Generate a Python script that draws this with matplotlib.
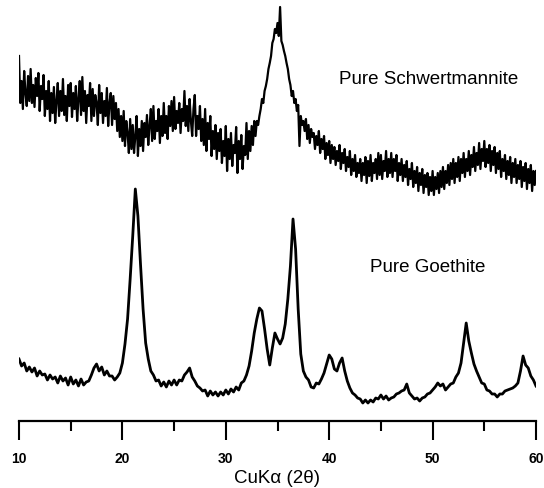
import matplotlib.pyplot as plt
import numpy as np

# 2-theta grids: the schwertmannite scan read at 0.125 deg, goethite at 0.25 deg
theta_fine = np.arange(10, 60.001, 0.125)
theta = np.arange(10, 60.001, 0.25)

# intensity (a.u.)
schwertmannite = [
    365, 318, 340, 312, 350, 328, 315, 345,
    320, 352, 318, 336, 314, 343, 325, 348,
    310, 335, 322, 346, 305, 330, 312, 340,
    300, 328, 308, 334, 298, 320, 338, 305,
    330, 310, 342, 306, 325, 300, 336, 315,
    338, 304, 328, 312, 335, 300, 322, 340,
    306, 344, 310, 330, 298, 326, 315, 338,
    300, 332, 305, 326, 318, 296, 336, 308,
    328, 298, 320, 305, 333, 295, 318, 328,
    296, 325, 302, 318, 290, 312, 284, 305,
    280, 310, 275, 300, 288, 268, 302, 272,
    296, 268, 285, 305, 265, 292, 275, 300,
    270, 298, 284, 306, 276, 295, 312, 280,
    315, 282, 300, 290, 312, 278, 305, 285,
    318, 288, 305, 282, 315, 295, 320, 290,
    324, 292, 310, 298, 318, 288, 312, 300,
    330, 295, 315, 290, 322, 300, 285, 312,
    326, 285, 305, 292, 315, 280, 302, 276,
    312, 270, 298, 282, 305, 265, 290, 272,
    296, 262, 288, 270, 292, 258, 280, 265,
    295, 250, 282, 262, 288, 255, 276, 268,
    294, 248, 280, 262, 286, 252, 275, 266,
    298, 262, 290, 270, 295, 276, 300, 285,
    300, 296, 305, 312, 322, 318, 330, 335,
    342, 352, 358, 365, 378, 382, 392, 388,
    398, 385, 414, 380, 376, 370, 365, 358,
    352, 342, 336, 325, 330, 318, 322, 310,
    316, 275, 305, 296, 300, 290, 302, 282,
    296, 278, 292, 284, 288, 272, 285, 276,
    290, 268, 282, 272, 285, 262, 278, 266,
    280, 258, 276, 262, 274, 256, 270, 260,
    276, 252, 268, 258, 272, 250, 264, 254,
    270, 246, 262, 250, 266, 244, 258, 248,
    262, 240, 258, 246, 264, 238, 260, 245,
    266, 240, 258, 248, 262, 242, 268, 246,
    266, 242, 260, 250, 270, 244, 262, 248,
    268, 244, 262, 250, 266, 240, 258, 246,
    262, 240, 256, 244, 260, 236, 252, 242,
    258, 234, 250, 238, 254, 230, 248, 236,
    252, 228, 246, 234, 248, 226, 244, 230,
    250, 226, 244, 232, 248, 228, 250, 234,
    254, 232, 250, 238, 256, 236, 258, 242,
    262, 238, 258, 244, 264, 240, 262, 248,
    268, 244, 262, 250, 270, 246, 266, 254,
    274, 250, 268, 256, 278, 252, 272, 260,
    280, 254, 272, 258, 276, 250, 270, 256,
    274, 248, 268, 252, 270, 244, 262, 250,
    266, 242, 260, 246, 264, 238, 258, 244,
    262, 238, 256, 242, 260, 234, 254, 240,
    258, 232, 252, 238, 256, 230, 250, 236,
    250,
]

goethite = [
    62, 55, 58, 50, 54, 49, 53, 45, 50, 46, 47, 41,
    46, 42, 44, 38, 45, 40, 43, 36, 44, 37, 41, 35,
    42, 36, 39, 40, 46, 53, 57, 50, 54, 46, 50, 45,
    45, 41, 44, 48, 58, 77, 102, 142, 185, 232, 205, 157,
    112, 78, 62, 50, 46, 40, 41, 35, 39, 34, 40, 36,
    41, 36, 41, 40, 46, 49, 53, 44, 40, 35, 33, 30,
    31, 25, 30, 26, 29, 25, 29, 26, 31, 27, 32, 29,
    34, 31, 38, 40, 46, 55, 70, 88, 102, 113, 110, 92,
    72, 56, 73, 88, 82, 77, 83, 97, 122, 155, 202, 172,
    112, 67, 50, 44, 41, 34, 33, 38, 37, 42, 48, 57,
    66, 62, 52, 50, 58, 63, 50, 40, 33, 28, 26, 23,
    22, 18, 21, 18, 21, 19, 23, 22, 26, 22, 25, 21,
    23, 24, 27, 28, 30, 31, 37, 28, 25, 22, 23, 20,
    23, 24, 27, 28, 31, 34, 38, 35, 37, 31, 34, 37,
    38, 44, 48, 58, 78, 98, 80, 68, 57, 50, 44, 38,
    37, 31, 30, 27, 27, 24, 27, 27, 30, 31, 32, 33,
    35, 38, 50, 65, 56, 53, 45, 41, 35,
]

major_ticks = [10, 20, 30, 40, 50, 60]
minor_ticks = [15, 25, 35, 45, 55]

plt.rcParams['font.family'] = ['Liberation Sans', 'DejaVu Sans']

fig = plt.figure(figsize=(5.44, 4.89), dpi=100)
ax = fig.add_axes([19 / 544, 1 - 422 / 489, 517 / 544, 422 / 489])

ax.plot(theta_fine, schwertmannite, color='black', lw=1.6)
ax.plot(theta, goethite, color='black', lw=2.0)

ax.text(40.95, 342, 'Pure Schwertmannite', fontsize=13.5, va='center', ha='left')
ax.text(43.95, 154, 'Pure Goethite', fontsize=13.5, va='center', ha='left')

ax.set_xlim(10, 60)
ax.set_ylim(0, 422)
ax.set_xticks(major_ticks)
ax.set_xticks(minor_ticks, minor=True)
ax.set_yticks([])
for s in ['left', 'right', 'top']:
    ax.spines[s].set_visible(False)
ax.spines['bottom'].set_linewidth(1.6)
ax.tick_params(axis='x', which='major', direction='out', length=13.5, width=1.5,
               pad=8, labelsize=10)
ax.tick_params(axis='x', which='minor', direction='out', length=7, width=1.5)
for lab in ax.get_xticklabels():
    lab.set_fontweight('bold')
ax.set_xlabel('CuK\u03b1 (2\u03b8)', fontsize=13.5, labelpad=3)

fig.savefig('out.png', dpi=100)
